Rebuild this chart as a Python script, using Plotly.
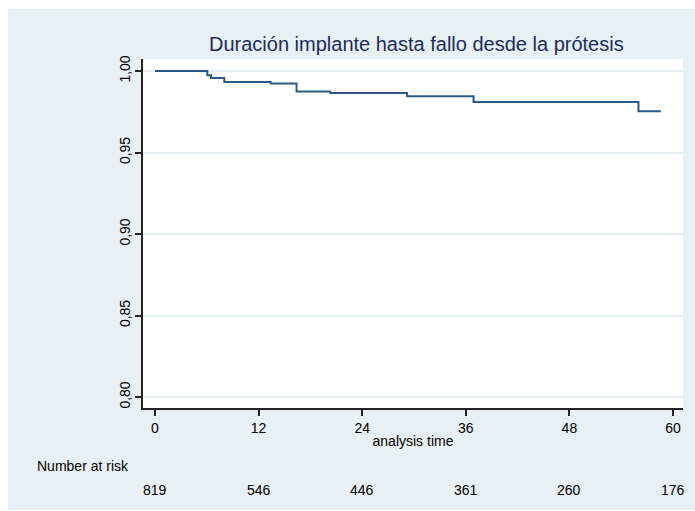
import plotly.graph_objects as go

# Kaplan-Meier step data (time in months, survival)
times = [0, 6.06, 6.49, 8.03, 13.4, 16.4, 20.3, 29.2, 36.9, 56.0, 58.6]
surv = [1.0, 0.9974, 0.9957, 0.9933, 0.9923, 0.9875, 0.9865, 0.9845, 0.9810, 0.9753, 0.9753]

x_ticks = [0, 12, 24, 36, 48, 60]
y_ticks = [0.80, 0.85, 0.90, 0.95, 1.00]
y_tick_labels = ["0,80", "0,85", "0,90", "0,95", "1,00"]
at_risk = [819, 546, 446, 361, 260, 176]

title = "Duración implante hasta fallo desde la prótesis"
FONT = "Liberation Sans, Arial, sans-serif"
BG = "#e7f0f2"

fig = go.Figure()
fig.add_trace(go.Scatter(
    x=times, y=surv, mode="lines", line=dict(shape="hv", color="#2c5985", width=2),
    showlegend=False, hoverinfo="skip"))

W, H = 695, 511
L, R, T, B = 143, 683, 59, 408
pw, ph = R - L, B - T

def px(xp):
    return (xp - L) / pw

def py(yp):
    return (B - yp) / ph

annotations = []
for t, n in zip(x_ticks, at_risk):
    annotations.append(dict(x=t, y=py(490), xref="x", yref="paper", text=str(n),
                            showarrow=False, xanchor="center", yanchor="middle",
                            font=dict(family=FONT, size=14, color="#000")))
annotations.append(dict(x=px(35), y=py(466), xref="paper", yref="paper", text="Number at risk",
                        showarrow=False, xanchor="left", yanchor="middle",
                        font=dict(family=FONT, size=14, color="#000")))
annotations.append(dict(x=px(416), y=py(44), xref="paper", yref="paper", text=title,
                        showarrow=False, xanchor="center", yanchor="middle",
                        font=dict(family=FONT, size=20, color="#1d2b5e")))

white_strips = [
    (0, 8, 0, 511),     # left margin
    (0, 695, 0, 9),     # top margin
    (0, 695, 510, 511), # bottom margin
]
shapes = [dict(type="rect", xref="paper", yref="paper", x0=px(a), x1=px(b),
               y0=py(d), y1=py(c), fillcolor="white", line=dict(width=0), layer="below")
          for a, b, c, d in white_strips]

fig.update_layout(
    width=W, height=H,
    margin=dict(l=L, r=W - R, t=T, b=H - B),
    paper_bgcolor=BG, plot_bgcolor="white",
    annotations=annotations,
    shapes=shapes,
    xaxis=dict(range=[-1.39, 61.16], tickvals=x_ticks, ticktext=[str(v) for v in x_ticks],
               showgrid=False, zeroline=False, showline=True, linecolor="#222", linewidth=1.5,
               ticks="outside", ticklen=6, tickwidth=1.5, tickcolor="#222",
               tickfont=dict(family=FONT, size=14, color="#000"),
               title=dict(text="analysis time", font=dict(family=FONT, size=14, color="#000"),
                          standoff=2)),
    yaxis=dict(range=[0.7933, 1.0074], tickvals=y_ticks, ticktext=y_tick_labels,
               showgrid=True, gridcolor="#e6eff2", gridwidth=1.5, zeroline=False,
               showline=True, linecolor="#222", linewidth=1.5,
               ticks="outside", ticklen=6, tickwidth=1.5, tickcolor="#222", tickangle=-90,
               tickfont=dict(family=FONT, size=14, color="#000")),
)

fig.write_html("out.html")
